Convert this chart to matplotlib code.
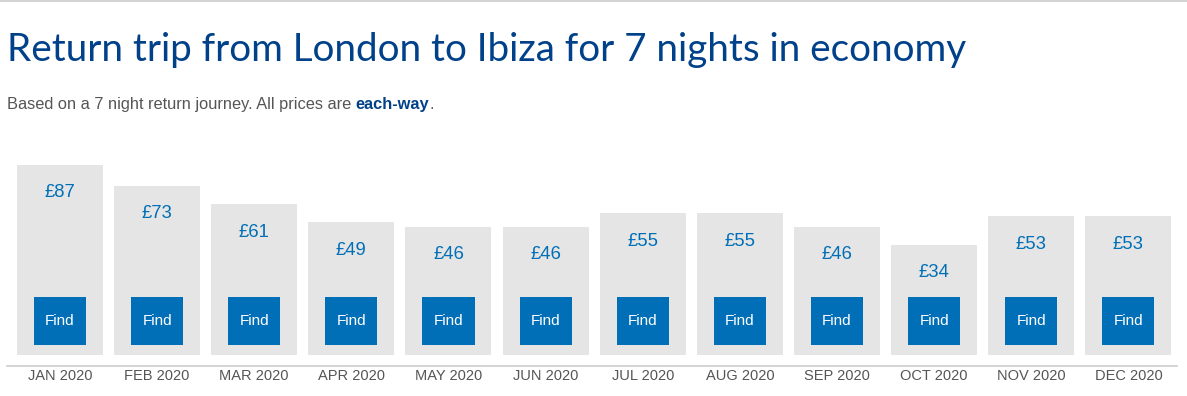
import matplotlib
matplotlib.use("Agg")
import matplotlib.pyplot as plt
import matplotlib.transforms as mtransforms
from matplotlib.patches import Rectangle
import numpy as np

months = ["JAN 2020", "FEB 2020", "MAR 2020", "APR 2020", "MAY 2020", "JUN 2020",
          "JUL 2020", "AUG 2020", "SEP 2020", "OCT 2020", "NOV 2020", "DEC 2020"]
prices = [87, 73, 61, 49, 46, 46, 55, 55, 46, 34, 53, 53]
price_labels = ["£87", "£73", "£61", "£49", "£46", "£46", "£55", "£55", "£46", "£34", "£53", "£53"]
button_label = "Find"

title = "Return trip from London to Ibiza for 7 nights in economy"
subtitle_a = "Based on a 7 night return journey. All prices are "
subtitle_b = "each-way"
subtitle_c = "."

W, H = 1187, 396
DPI = 100
BAR_BG = "#e5e5e5"
BLUE = "#006fb7"
DARK_BLUE = "#00418a"
GREY_TEXT = "#555555"
BASE = -39  # price value at the bar base

fig = plt.figure(figsize=(W / DPI, H / DPI), dpi=DPI)

def fx(px):
    return px / W

def fy(py):
    return 1 - py / H

# top grey rule
fig.add_artist(plt.Line2D([0, 1], [fy(1), fy(1)], color="#cccccc", lw=1.2))

fig.text(fx(7), fy(61), title, fontsize=27.8, color=DARK_BLUE, family="Lato",
         va="baseline", ha="left")

sub_kw = dict(fontsize=11.8, family="Liberation Sans", va="baseline")
t1 = fig.text(fx(7), fy(109), subtitle_a, color=GREY_TEXT, **sub_kw)
fig.canvas.draw()
r = fig.canvas.get_renderer()
bb = t1.get_window_extent(r)
t2 = fig.text(bb.x1 / W, fy(109), subtitle_b, color=DARK_BLUE, fontweight="bold", **sub_kw)
bb2 = t2.get_window_extent(r)
fig.text((bb2.x1 + 0.5) / W, fy(109), subtitle_c, color=GREY_TEXT, **sub_kw)

# axes: x 7..1177 px, y 150..366 px
ax = fig.add_axes([fx(7), fy(366), fx(1177) - fx(7), (366 - 150) / H])
scale = 1.509  # px per pound
ax.set_ylim(BASE - 11 / scale, BASE + (355 - 150) / scale)
ax.set_xlim(-0.545, 11.5)

x = np.arange(len(prices))
heights = np.array(prices) - BASE
ax.bar(x, heights, bottom=BASE, width=0.885, color=BAR_BG, zorder=1)

ax_h_px = 366 - 150
btrans = mtransforms.blended_transform_factory(ax.transData, ax.transAxes)
off = mtransforms.offset_copy(ax.transData, fig=fig, x=0, y=-28, units="dots")
for i, (p, lab) in enumerate(zip(prices, price_labels)):
    ax.text(i, p, lab, transform=off, ha="center", va="center", fontsize=13.3,
            color=BLUE, family="Liberation Sans")
    ax.add_patch(Rectangle((i - 0.268, 21 / ax_h_px), 0.536, 48 / ax_h_px,
                           transform=btrans, color=BLUE, zorder=2, lw=0))
    ax.text(i, 45 / ax_h_px, button_label, transform=btrans, ha="center", va="center",
            fontsize=11, color="white", family="Liberation Sans", zorder=3)

ax.set_xticks(x)
ax.set_xticklabels(months, fontsize=10.5, color=GREY_TEXT, family="Liberation Sans")
ax.tick_params(axis="x", length=0, pad=2)
ax.set_yticks([])
for s in ["top", "left", "right"]:
    ax.spines[s].set_visible(False)
ax.spines["bottom"].set_color("#cccccc")
ax.spines["bottom"].set_linewidth(1.2)
ax.patch.set_alpha(0)

fig.savefig("out.png", dpi=DPI)
